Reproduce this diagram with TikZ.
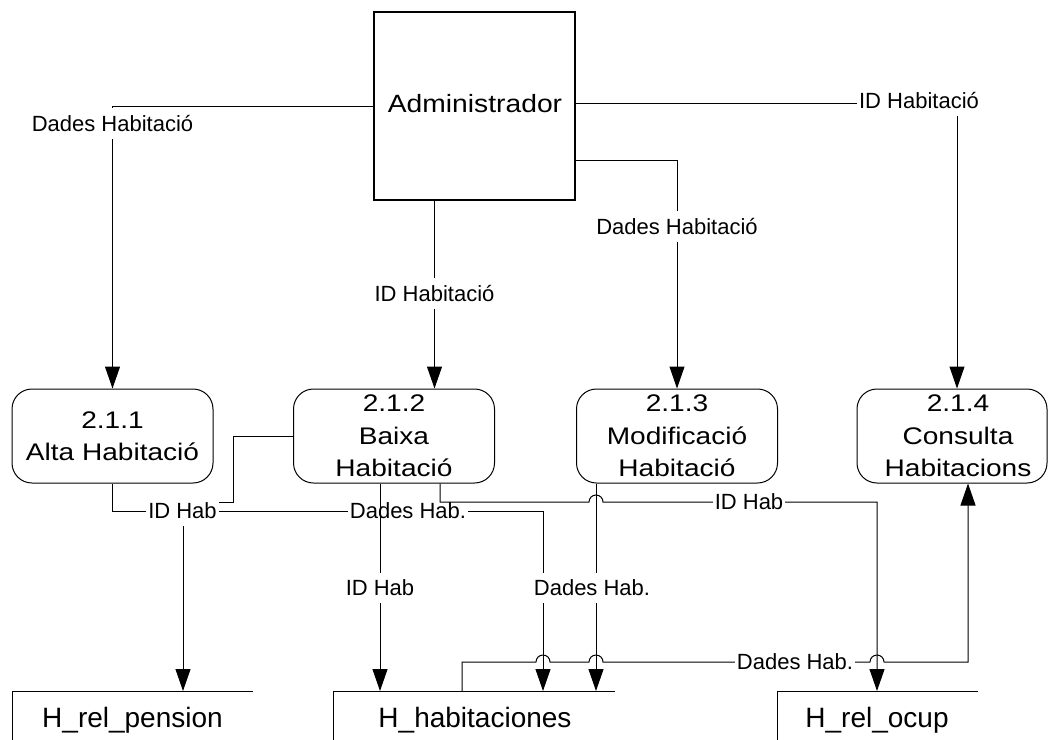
\documentclass[tikz,border=0pt]{standalone}
\usepackage{fontspec}
\setmainfont{Liberation Sans}
\newfontfamily\procfont{Liberation Sans}[FakeStretch=1.17]
\newfontfamily\admfont{Liberation Sans}[FakeStretch=1.13]
\usetikzlibrary{arrows.meta,calc}
\begin{document}
\begin{tikzpicture}[x=1pt,y=-1pt,line width=1pt,
  arr/.style={-{Triangle[width=15pt,length=22pt]}},
  proc/.style={draw,rounded corners=20pt,minimum width=201pt,minimum height=94pt,inner sep=0pt,align=center,font=\procfont\fontsize{24}{32.5}\selectfont},
  proctxt/.style={inner sep=0pt,align=center,font=\procfont\fontsize{24}{32.5}\selectfont},
  ent/.style={draw,line width=1.3pt,minimum width=201pt,minimum height=188pt,inner sep=0pt},
  enttxt/.style={inner sep=0pt,font=\admfont\fontsize{25}{30}\selectfont},
  lbl/.style={fill=white,inner xsep=2pt,inner ysep=7pt,font=\fontsize{22}{26}\selectfont},
  storetxt/.style={inner sep=0pt,anchor=base,font=\fontsize{28}{32}\selectfont}]
\useasboundingbox (0,0) rectangle (1049,739);

% entity
\node[ent] (adm) at (474.5,106) {};
\node[enttxt] (admt) at (475,104) {Administrador};

% processes
\node[proc] (p1) at (112.5,436) {2.1.1\\Alta Habitació};
\node[proc] (p2) at (394,436) {2.1.2\\Baixa\\Habitació};
\node[proc] (p3) at (677,436) {2.1.3\\Modificació\\Habitació};
\node[proc,minimum width=190pt] (p4) at (952,436) {};
\node[proctxt] (p4t) at (958,436) {2.1.4\\Consulta\\Habitacions};

% stores
\coordinate (s1tl) at (12,691);
\coordinate (s2tl) at (333,691);
\coordinate (s3tl) at (777,691);
\draw ($(s1tl)+(0,50)$) -- (s1tl) -- ($(s1tl)+(241,0)$);
\draw ($(s2tl)+(0,50)$) -- (s2tl) -- ($(s2tl)+(282,0)$);
\draw ($(s3tl)+(0,50)$) -- (s3tl) -- ($(s3tl)+(201,0)$);
\node[storetxt] (s1) at (132.5,727) {H\_rel\_pension};
\node[storetxt] (s2) at (475,727) {H\_habitaciones};
\node[storetxt] (s3) at (877,727) {H\_rel\_ocup};

% top connectors
\draw[arr] (adm.west) -| (p1.north);
\node[lbl] (l1) at (112.5,123.5) {Dades Habitació};
\draw[arr] ($(adm.south)+(-40,0)$) -- ($(p2.north)+(40.5,0)$);
\node[lbl] (l2) at (434.5,293.5) {ID Habitació};
\draw[arr] ($(adm.east)+(0,54)$) -| (p3.north);
\node[lbl] (l3) at (677,226.5) {Dades Habitació};
\draw[arr] ($(adm.east)+(0,-3)$) -| ($(p4.north)+(5,0)$);
\node[lbl] (l4) at (919,101) {ID Habitació};

% bottom connectors
\draw[arr] (p1.south) |- (543,511) -- ($(s2tl)+(210,0)$);
\node[lbl] (l6) at (408,511) {Dades Hab.};
\draw[arr] (p2.west) -- (233,436) -- (233,502) -- (183,502) -- ($(s1tl)+(171,0)$);
\node[lbl] (l5) at (182.5,511) {ID Hab};
\draw[arr] ($(p2.south)+(46,0)$) -- (440,502) -- (589,502)
  arc[start angle=180,end angle=0,radius=7pt] -- (877,502) -- ($(s3tl)+(100,0)$);
\node[lbl] (l7) at (749,502) {ID Hab};
\draw[arr] ($(p2.south)+(-14,0)$) -- ($(s2tl)+(47,0)$);
\node[lbl] (l8) at (380,588) {ID Hab};
\draw[arr] ($(p3.south)+(-81,0)$) -- ($(s2tl)+(263,0)$);
\node[lbl] (l9) at (592,588) {Dades Hab.};
\draw[arr] ($(s2tl)+(129,0)$) -- (462,662) -- (536,662)
  arc[start angle=180,end angle=0,radius=7pt] -- (589,662)
  arc[start angle=180,end angle=0,radius=7pt] -- (870,662)
  arc[start angle=180,end angle=0,radius=7pt] -- (968,662) -- ($(p4.south)+(16,0)$);
\node[lbl] (l10) at (795,662) {Dades Hab.};
\end{tikzpicture}
\end{document}
